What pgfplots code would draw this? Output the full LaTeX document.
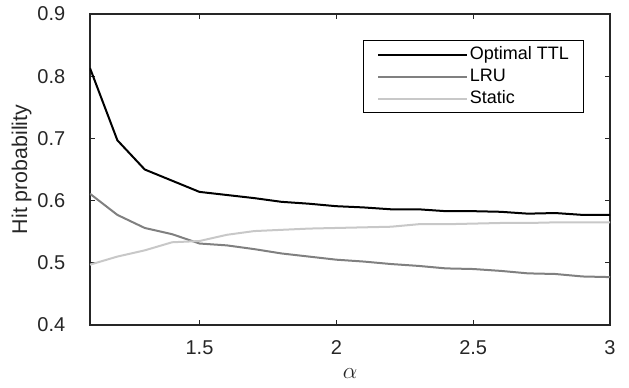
\documentclass[border=0pt]{standalone}
\usepackage{pgfplots}
\pgfplotsset{compat=1.18}
\usepackage{fontspec}
\setmainfont{Liberation Sans}
\definecolor{axgray}{RGB}{38,38,38}
\definecolor{lrugray}{RGB}{128,128,128}
\definecolor{statgray}{RGB}{200,200,200}
\begin{document}
\begin{tikzpicture}
\useasboundingbox (-67.5pt,-47.25pt) rectangle (404.25pt,243.75pt);
\begin{axis}[
  scale only axis,
  width=390pt, height=233.25pt,
  at={(0,0)}, anchor=south west,
  xmin=1.1, xmax=3, ymin=0.4, ymax=0.9,
  xtick={1.5,2,2.5,3},
  ytick={0.4,0.5,0.6,0.7,0.8,0.9},
  xticklabels={1.5,2,2.5,3},
  yticklabels={0.4,0.5,0.6,0.7,0.8,0.9},
  tick align=inside,
  major tick length=4pt,
  axis line style={axgray, line width=0.8pt},
  every tick/.style={axgray, line width=0.8pt},
  tick label style={font=\fontsize{15}{17}\selectfont, text=axgray},
  xticklabel style={yshift=-8pt},
  yticklabel style={xshift=-15pt},
  xlabel={$\alpha$},
  ylabel={Hit probability},
  label style={font=\fontsize{16}{18}\selectfont, text=axgray},
  xlabel style={yshift=-4pt},
  ylabel style={yshift=-2.5pt},
  legend style={at={(1,1)}, anchor=north east, xshift=-19.5pt, yshift=-19.5pt,
    draw=black, line width=0.8pt, font=\fontsize{13.5}{15}\selectfont,
    inner xsep=10pt, inner ysep=3pt, row sep=1.5pt,
    nodes={inner sep=1pt, text height=10pt, text depth=3pt},
    cells={anchor=west}},
  legend cell align=left,
  legend image code/.code={\path (0pt,0pt) -- (67pt,0pt); \draw[#1] (0pt,0pt) -- (61pt,0pt);},
]
\addplot[black, line width=1.5pt] coordinates {
(1.1,0.813) (1.2,0.697) (1.3,0.650) (1.4,0.632) (1.5,0.614) (1.6,0.609)
(1.7,0.604) (1.8,0.598) (1.9,0.595) (2.0,0.591) (2.1,0.589) (2.2,0.586)
(2.3,0.586) (2.4,0.583) (2.5,0.583) (2.6,0.582) (2.7,0.579) (2.8,0.580)
(2.9,0.577) (3.0,0.577)};
\addlegendentry{Optimal TTL}
\addplot[lrugray, line width=1.5pt] coordinates {
(1.1,0.611) (1.2,0.577) (1.3,0.556) (1.4,0.546) (1.5,0.531) (1.6,0.528)
(1.7,0.522) (1.8,0.515) (1.9,0.510) (2.0,0.505) (2.1,0.502) (2.2,0.498)
(2.3,0.495) (2.4,0.491) (2.5,0.490) (2.6,0.487) (2.7,0.483) (2.8,0.482)
(2.9,0.478) (3.0,0.477)};
\addlegendentry{LRU}
\addplot[statgray, line width=1.5pt] coordinates {
(1.1,0.497) (1.2,0.510) (1.3,0.520) (1.4,0.533) (1.5,0.535) (1.6,0.545)
(1.7,0.551) (1.8,0.553) (1.9,0.555) (2.0,0.556) (2.1,0.557) (2.2,0.558)
(2.3,0.562) (2.4,0.562) (2.5,0.563) (2.6,0.564) (2.7,0.564) (2.8,0.565)
(2.9,0.565) (3.0,0.565)};
\addlegendentry{Static}
\end{axis}
\end{tikzpicture}
\end{document}
